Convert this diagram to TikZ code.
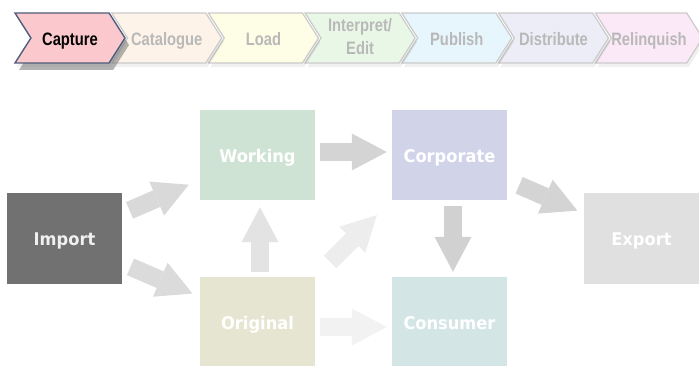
\documentclass[tikz,border=0pt]{standalone}
\usepackage{fontspec}
\newfontfamily\stagefont[FakeStretch=0.82]{Liberation Sans}
\newfontfamily\storefont[FakeStretch=0.93]{DejaVu Sans}
\usetikzlibrary{arrows.meta, shapes.symbols, shadows}

\definecolor{stageline}{HTML}{CBCBCB}
\definecolor{stagetext}{HTML}{B9B9B9}
\definecolor{captureline}{HTML}{4E5E7C}
\definecolor{capturefill}{HTML}{FBC9CD}
\definecolor{cataloguefill}{HTML}{FDF3E8}
\definecolor{loadfill}{HTML}{FEFDE6}
\definecolor{interpretfill}{HTML}{E9F8E6}
\definecolor{publishfill}{HTML}{E7F6FC}
\definecolor{distributefill}{HTML}{EDEDF7}
\definecolor{relinquishfill}{HTML}{FCE9F7}
\definecolor{importfill}{HTML}{717171}
\definecolor{workingfill}{HTML}{CEE3D3}
\definecolor{originalfill}{HTML}{E6E5D1}
\definecolor{corporatefill}{HTML}{D1D3E9}
\definecolor{consumerfill}{HTML}{D4E5E6}
\definecolor{exportfill}{HTML}{E0E0E0}

\begin{document}
\begin{tikzpicture}[
    x=1pt, y=-1pt,
    stage/.style={
        signal,
        signal from=west,
        signal to=east,
        signal pointer angle=115,
        minimum width=110pt,
        minimum height=50pt,
        inner sep=0pt,
        draw=stageline,
        line width=1.2pt,
        text=stagetext,
        align=center,
        text height=16pt,
        text depth=0pt,
        font=\stagefont\bfseries\fontsize{18}{23}\selectfont,
        drop shadow={opacity=0.12, shadow xshift=2pt, shadow yshift=-4pt},
    },
    store/.style={
        rectangle,
        minimum width=115pt,
        minimum height=90pt,
        inner sep=0pt,
        text=white,
        text height=15pt,
        text depth=0pt,
        font=\storefont\bfseries\fontsize{17.5}{20}\selectfont,
    },
    flow/.style={
        line width=18pt,
        -{Triangle[length=35pt, width=37pt, line width=0pt]},
    }
]
    \useasboundingbox (0,0) rectangle (699,366);

    % Stages
    \node[stage, fill=relinquishfill, minimum width=106pt] (relinquish) at (649,38) {Relinquish};
    \node[stage, fill=distributefill] (distribute) at (553.5,38) {Distribute};
    \node[stage, fill=publishfill] (publish) at (456.8,38) {Publish};
    \node[stage, fill=interpretfill, text height=34pt] (interpret) at (360.1,38) {Interpret/\\Edit};
    \node[stage, fill=loadfill] (load) at (263.4,38) {Load};
    \node[stage, fill=cataloguefill] (catalogue) at (166.7,38) {Catalogue};
    \node[stage, fill=capturefill, draw=captureline, text=black, line width=1.4pt,
          drop shadow={opacity=0.6, shadow xshift=4pt, shadow yshift=-7pt}]
          (capture) at (70,38) {Capture};

    % Stores
    \node[store, fill=importfill, text=black!6] (import) at (64.5,238.5) {Import};
    \node[store, fill=workingfill] (working) at (257.5,155) {Working};
    \node[store, fill=originalfill, minimum height=89pt] (original) at (257.5,321.5) {Original};
    \node[store, fill=corporatefill] (corporate) at (449.5,155) {Corporate};
    \node[store, fill=consumerfill, minimum height=89pt] (consumer) at (449.5,321.5) {Consumer};
    \node[store, fill=exportfill] (export) at (641.5,238.5) {Export};

    % Flows
    \draw[flow, draw=black!15, shorten <=8pt, shorten >=12pt] (import) -- (working);
    \draw[flow, draw=black!14, shorten <=9pt, shorten >=8pt] (import) -- (original);
    \draw[flow, draw=black!11, shorten <=5pt, shorten >=7pt]
        ([xshift=2.5pt]original.north) -- ([xshift=2.5pt]working.south);
    \draw[flow, draw=black!7, shorten <=21pt, shorten >=21pt]
        (original.north east) -- (corporate.south west);
    \draw[flow, draw=black!5, shorten <=5pt, shorten >=5pt]
        ([yshift=-5.5pt]original.east) -- ([yshift=-5.5pt]consumer.west);
    \draw[flow, draw=black!17, shorten <=5pt, shorten >=5pt]
        ([yshift=3pt]working.east) -- ([yshift=3pt]corporate.west);
    \draw[flow, draw=black!18, shorten <=6pt, shorten >=5pt]
        ([xshift=3.5pt]corporate.south) -- ([xshift=3.5pt]consumer.north);
    \draw[flow, draw=black!17, shorten <=13pt, shorten >=7pt] (corporate) -- (export);
\end{tikzpicture}
\end{document}
